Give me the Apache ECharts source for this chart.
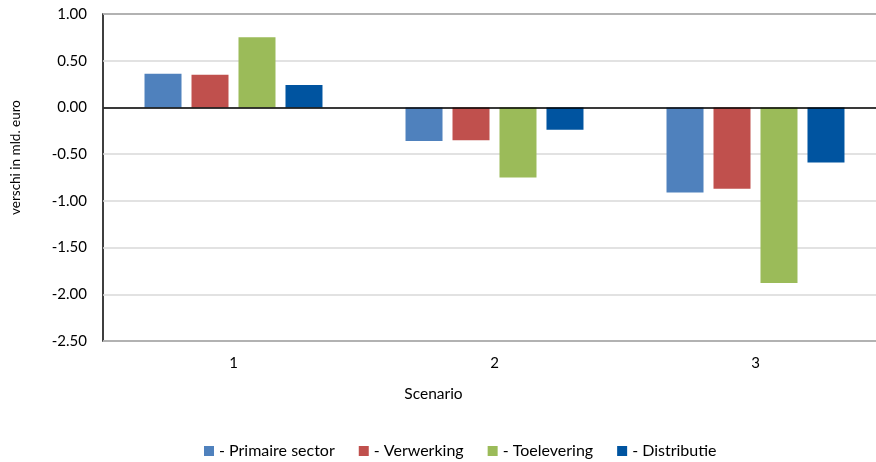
<!DOCTYPE html>
<html><head><meta charset="utf-8">
<script src="https://cdn.jsdelivr.net/npm/echarts@6/dist/echarts.min.js"></script>
<style>html,body{margin:0;padding:0;background:#fff}#c{width:876px;height:462px}</style>
</head><body><div id="c"></div>
<script>
const categories = ['1', '2', '3'];
const primaireSector = [0.36, -0.36, -0.91];
const verwerking = [0.35, -0.35, -0.87];
const toelevering = [0.75, -0.75, -1.88];
const distributie = [0.24, -0.24, -0.59];
const seriesNames = ['- Primaire sector', '- Verwerking', '- Toelevering', '- Distributie'];
const colors = ['#4F81BD', '#C0504D', '#9BBB59', '#0054A0'];
const values = [primaireSector, verwerking, toelevering, distributie];
const font = 'Lato, "Noto Sans", sans-serif';

const chart = echarts.init(document.getElementById('c'));
chart.setOption({
  animation: false,
  textStyle: { fontFamily: font, color: '#000' },
  grid: { left: 103, width: 783, top: 14, height: 327, show: true, borderColor: '#000', borderWidth: 1.5,
          containLabel: false, outerBoundsMode: 'none' },
  legend: {
    top: 438, left: 199, itemWidth: 10, itemHeight: 10, itemGap: 24,
    icon: 'rect', textStyle: { fontSize: 16, fontFamily: font, color: '#000' },
    data: seriesNames
  },
  xAxis: {
    type: 'category', data: categories,
    name: 'Scenario', nameLocation: 'middle', nameGap: 45,
    nameTextStyle: { fontSize: 15.5, fontFamily: font, color: '#000', padding: [0, 122, 0, 0] },
    axisLine: { show: false }, axisTick: { show: false },
    axisLabel: { fontSize: 15, fontFamily: font, color: '#000', margin: 15 }
  },
  yAxis: {
    type: 'value', min: -2.5, max: 1, interval: 0.5,
    name: 'verschi in mld. euro', nameLocation: 'middle', nameGap: 80, nameRotate: 90,
    nameTextStyle: { fontSize: 13.5, fontFamily: font, color: '#000', padding: [0, 0, 0, 40] },
    axisLine: { show: false }, axisTick: { show: false },
    axisLabel: { fontSize: 15, fontFamily: font, color: '#000', margin: 16, formatter: v => v.toFixed(2) },
    splitLine: { lineStyle: { color: '#D9D9D9', width: 1.5 } }
  },
  series: values.map((d, i) => ({
    name: seriesNames[i], type: 'bar', data: d,
    barWidth: 37, barGap: '27%',
    itemStyle: { color: colors[i] },
    markLine: i === 0 ? {
      silent: true, symbol: 'none', label: { show: false },
      lineStyle: { color: '#000', width: 1.5, type: 'solid' },
      data: [{ yAxis: 0 }]
    } : undefined
  }))
});
</script></body></html>
